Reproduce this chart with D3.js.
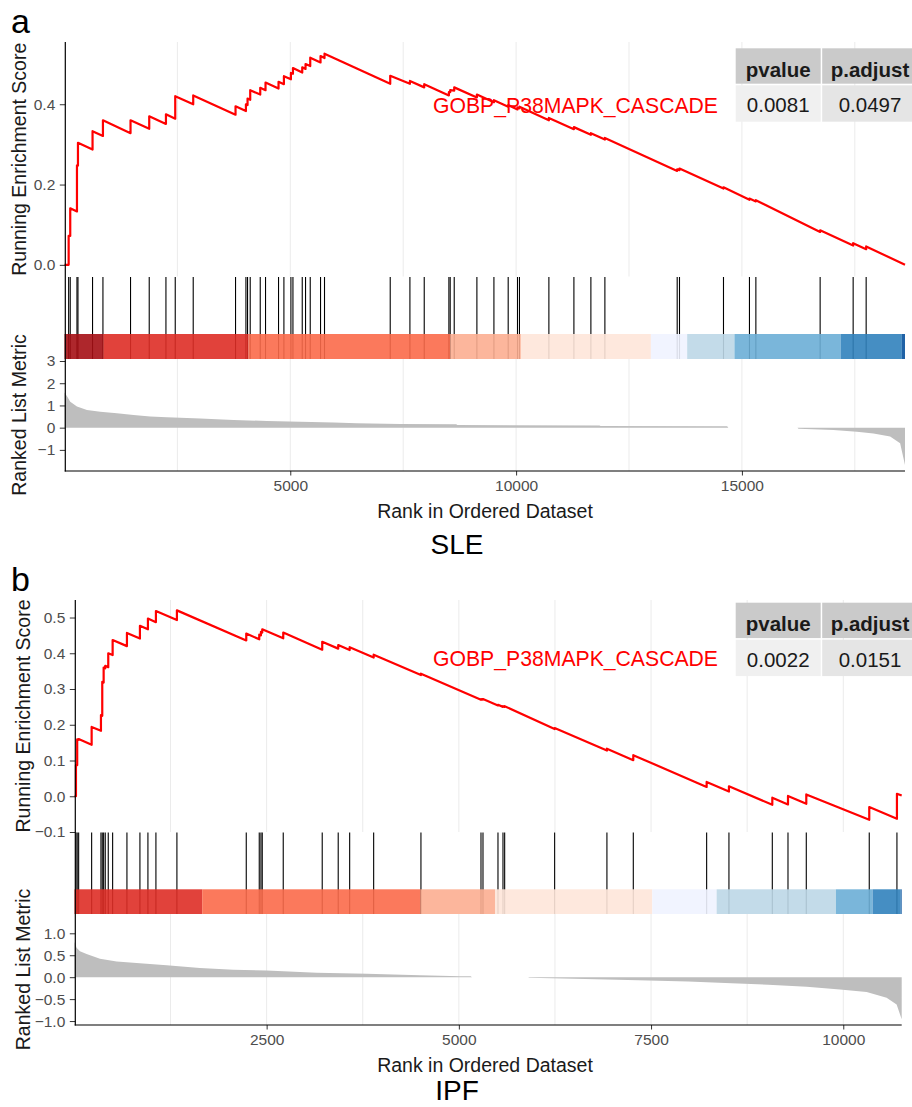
<!DOCTYPE html>
<html>
<head>
<meta charset="utf-8">
<script src="https://cdn.jsdelivr.net/npm/d3@7"></script>
<style>
  body { margin: 0; background: #fff; }
  svg text { font-family: "Liberation Sans", Arial, sans-serif; }
</style>
</head>
<body>
<svg id="fig" width="912" height="1107"></svg>
<script>
/*************** DATA ***************/
const geneSet = 'GOBP_P38MAPK_CASCADE';
const tableHeader = ['pvalue', 'p.adjust'];

// panel a : SLE
const sizeA = 18611;
const hitsA = [93, 128, 277, 299, 622, 852, 1463, 1877, 2247, 2453, 2851, 3788, 4018, 4054, 4113, 4335, 4452, 4740, 4859, 5014,
  5059, 5265, 5338, 5442, 5670, 5758, 7213, 7649, 7966, 8512, 8541, 8630, 9132, 9509, 9825, 10031, 10075, 10726, 11280, 11656,
  11966, 13567, 13618, 14592, 15167, 15309, 16732, 17463, 17751];
const esLowA = [0.000, 0.072, 0.133, 0.247, 0.287, 0.321, 0.328, 0.339, 0.351, 0.364, 0.400, 0.374, 0.383, 0.398, 0.411, 0.424,
  0.435, 0.439, 0.450, 0.462, 0.476, 0.479, 0.488, 0.495, 0.504, 0.515, 0.451, 0.451, 0.442, 0.422, 0.430, 0.434, 0.417, 0.405,
  0.394, 0.387, 0.390, 0.360, 0.338, 0.324, 0.312, 0.234, 0.236, 0.190, 0.162, 0.158, 0.082, 0.048, 0.039];
const esHighA = [0.072, 0.141, 0.248, 0.304, 0.333, 0.360, 0.360, 0.370, 0.375, 0.420, 0.422, 0.395, 0.400, 0.414, 0.435, 0.441,
  0.454, 0.456, 0.470, 0.478, 0.490, 0.492, 0.500, 0.516, 0.520, 0.526, 0.471, 0.458, 0.450, 0.430, 0.435, 0.442, 0.424, 0.410,
  0.398, 0.392, 0.394, 0.366, 0.343, 0.328, 0.316, 0.238, 0.240, 0.193, 0.165, 0.161, 0.086, 0.054, 0.046];
const esEndA = 0.0;
const metricRankA = [1, 60, 128, 277, 498, 793, 1162, 1530, 1899, 2268, 3006, 3744, 4482, 5220, 5958, 6474, 7434, 8674, 8700,
  11846, 11870, 14673, 14700, 16230, 16252, 17027, 17545, 17913, 18282, 18503, 18611];
const metricValA = [1.58, 1.40, 1.17, 0.95, 0.80, 0.72, 0.65, 0.57, 0.50, 0.47, 0.41, 0.35, 0.30, 0.27, 0.23, 0.20, 0.17, 0.15, 0.12,
  0.10, 0.075, 0.06, 0, 0, -0.045, -0.10, -0.18, -0.26, -0.40, -0.70, -1.68];
const barEdgesA = [1, 859, 4076, 8541, 10106, 12984, 13788, 14835, 17191, 18541, 18611];
const barColorsA = ['#A50F15', '#DE2D26', '#FB6A4A', '#FCAE91', '#FEE5D9', '#EFF3FF', '#BDD7E7', '#6BAED6', '#3182BD', '#08519C'];
const esTicksA = [0, 0.2, 0.4];
const metricTicksA = [-1, 0, 1, 2, 3];
const xTicksA = [5000, 10000, 15000];
const statsA = ['0.0081', '0.0497'];

// panel b : IPF
const sizeB = 10760;
const hitsB = [20, 36, 55, 224, 345, 362, 380, 401, 440, 497, 683, 852, 956, 1060, 1333, 2235, 2404, 2426, 2443, 2716,
  3223, 3431, 3580, 3892, 4507, 5288, 5314, 5509, 5574, 5596, 6246, 6926, 7269, 8223, 8513, 9077, 9281, 9519, 10338, 10698];
const esLowB = [0.000, 0.087, 0.158, 0.144, 0.183, 0.225, 0.318, 0.358, 0.361, 0.395, 0.420, 0.441, 0.467, 0.487, 0.493, 0.436,
  0.439, 0.450, 0.458, 0.442, 0.410, 0.413, 0.409, 0.388, 0.339, 0.270, 0.270, 0.254, 0.250, 0.250, 0.188, 0.128, 0.101, 0.026,
  0.013, -0.024, -0.023, -0.021, -0.066, -0.063];
const esHighB = [0.087, 0.159, 0.160, 0.194, 0.227, 0.320, 0.360, 0.365, 0.400, 0.437, 0.457, 0.477, 0.497, 0.518, 0.520, 0.455,
  0.452, 0.460, 0.467, 0.458, 0.432, 0.423, 0.417, 0.396, 0.343, 0.272, 0.272, 0.256, 0.252, 0.252, 0.191, 0.133, 0.115, 0.040,
  0.028, -0.004, 0.001, 0.005, -0.030, 0.007];
const esEndB = 0.002;
const metricRankB = [1, 28, 72, 158, 332, 549, 765, 1199, 1632, 2066, 2500, 3150, 3801, 4494, 5015, 5154, 5170, 5900, 5916,
  6640, 7333, 7984, 8548, 9024, 9524, 9957, 10304, 10564, 10694, 10760];
const metricValB = [0.80, 0.67, 0.59, 0.53, 0.42, 0.36, 0.33, 0.27, 0.21, 0.17, 0.15, 0.10, 0.076, 0.045, 0.023, 0.02, 0, 0,
  -0.015, -0.04, -0.07, -0.10, -0.14, -0.17, -0.22, -0.28, -0.34, -0.47, -0.62, -0.96];
const barEdgesB = [1, 1662, 4503, 5470, 7516, 8353, 9905, 10382, 10747, 10760];
const barColorsB = ['#DE2D26', '#FB6A4A', '#FCAE91', '#FEE5D9', '#EFF3FF', '#BDD7E7', '#6BAED6', '#3182BD', '#08519C'];
const esTicksB = [-0.1, 0, 0.1, 0.2, 0.3, 0.4, 0.5];
const metricTicksB = [-1, -0.5, 0, 0.5, 1];
const xTicksB = [2500, 5000, 7500, 10000];
const statsB = ['0.0022', '0.0151'];

/*************** DRAW ***************/
const svg = d3.select('#fig');

drawGsea({
  tag: 'a', cohort: 'SLE', size: sizeA, hits: hitsA, esLow: esLowA, esHigh: esHighA, esEnd: esEndA,
  metricRank: metricRankA, metricVal: metricValA, barEdges: barEdgesA, barColors: barColorsA,
  esTicks: esTicksA, metricTicks: metricTicksA, xTicks: xTicksA, stats: statsA,
  left: 64.5, right: 905, esTop: 42, esBottom: 276.5, barTop: 334, barBottom: 359, rankBottom: 471,
  esDomain: [-0.029, 0.555], rankDomain: [-1.95, 3.09], tickFmt: d3.format('.1f'), rankFmt: d3.format('d'),
  titleX: 25.5, tableTop: 48.3, legendY: 112.5, tagY: 33, cohortY: 553.5
});

drawGsea({
  tag: 'b', cohort: 'IPF', size: sizeB, hits: hitsB, esLow: esLowB, esHigh: esHighB, esEnd: esEndB,
  metricRank: metricRankB, metricVal: metricValB, barEdges: barEdgesB, barColors: barColorsB,
  esTicks: esTicksB, metricTicks: metricTicksB, xTicks: xTicksB, stats: statsB,
  left: 74.5, right: 901.7, esTop: 600, esBottom: 832, barTop: 889.3, barBottom: 914, rankBottom: 1025,
  esDomain: [-0.1, 0.549], rankDomain: [-1.09, 1.44], tickFmt: d3.format('.1f'), rankFmt: d3.format('.1f'),
  titleX: 30, tableTop: 602.7, legendY: 666, tagY: 591, cohortY: 1100
});

function drawGsea(c) {
  const g = svg.append('g');
  const axisX = c.left + 0.8;

  const x = d3.scaleLinear().domain([1, c.size]).range([c.left, c.right]);
  const yEs = d3.scaleLinear().domain(c.esDomain).range([c.esBottom, c.esTop]);
  const yRank = d3.scaleLinear().domain(c.rankDomain).range([c.rankBottom, c.barBottom]);

  // vertical grid lines (major ticks + minor in between)
  const step = c.xTicks[1] - c.xTicks[0];
  const gridVals = d3.range(step / 2, c.size, step / 2);
  [[c.esTop, c.esBottom], [c.barBottom, c.rankBottom]].forEach(([y0, y1]) => {
    g.append('g').selectAll('line').data(gridVals).enter().append('line')
      .attr('x1', d => x(d)).attr('x2', d => x(d))
      .attr('y1', y0).attr('y2', y1)
      .attr('stroke', '#ebebeb').attr('stroke-width', 1);
  });

  // ranked list metric
  const area = d3.area()
    .x((d, i) => x(c.metricRank[i]))
    .y0(yRank(0))
    .y1(d => yRank(d));
  g.append('path').datum(c.metricVal)
    .attr('d', area)
    .attr('fill', '#bebebe');

  // running enrichment score
  const pts = [[1, 0]];
  c.hits.forEach((h, i) => { pts.push([h, c.esLow[i]]); pts.push([h, c.esHigh[i]]); });
  pts.push([c.size, c.esEnd]);
  g.append('path').datum(pts)
    .attr('d', d3.line().x(d => x(d[0])).y(d => yEs(d[1])))
    .attr('fill', 'none').attr('stroke', '#ff0000').attr('stroke-width', 2.2)
    .attr('stroke-linejoin', 'round');

  // gene set label
  g.append('text')
    .attr('x', 718).attr('y', c.legendY)
    .attr('text-anchor', 'end')
    .style('font-size', '21.2px').attr('fill', '#ff0000')
    .text(geneSet);

  // p value table
  const cols = [[735.7, 820.7], [822.2, 916]];
  const centers = [778.2, 870];
  const rows = [[c.tableTop, c.tableTop + 35.4], [c.tableTop + 37, c.tableTop + 73.4]];
  const fills = [['#cacaca', '#cacaca'], ['#f0f0f0', '#e5e5e5']];
  const cells = [tableHeader, c.stats];
  rows.forEach((r, ri) => {
    cols.forEach((cl, ci) => {
      g.append('rect')
        .attr('x', cl[0]).attr('y', r[0])
        .attr('width', cl[1] - cl[0]).attr('height', r[1] - r[0])
        .attr('fill', fills[ri][ci]);
      g.append('text')
        .attr('x', centers[ci])
        .attr('y', r[0] + (ri === 0 ? 28.4 : 26.8))
        .attr('text-anchor', 'middle')
        .style('font-size', '20.5px')
        .style('font-weight', ri === 0 ? 'bold' : 'normal')
        .attr('fill', '#1a1a1a')
        .text(cells[ri][ci]);
    });
  });

  // hit lines
  g.append('g').selectAll('line').data(c.hits).enter().append('line')
    .attr('x1', d => x(d)).attr('x2', d => x(d))
    .attr('y1', c.esBottom + 0.5).attr('y2', c.barBottom)
    .attr('stroke', '#000').attr('stroke-width', 1.1);

  // colour bar
  g.append('g').selectAll('rect').data(c.barColors).enter().append('rect')
    .attr('x', (d, i) => x(c.barEdges[i]))
    .attr('width', (d, i) => x(c.barEdges[i + 1]) - x(c.barEdges[i]))
    .attr('y', c.barTop).attr('height', c.barBottom - c.barTop)
    .attr('fill', d => d).attr('fill-opacity', 0.9);

  // axes
  const axisStyle = sel => {
    sel.select('.domain').remove();
    sel.selectAll('.tick line').attr('stroke', '#333');
    sel.selectAll('.tick text').attr('fill', '#4d4d4d').style('font-size', '15.5px')
      .style('font-family', '"Liberation Sans", Arial, sans-serif');
  };
  g.append('g').attr('transform', `translate(${axisX},0)`)
    .call(d3.axisLeft(yEs).tickValues(c.esTicks).tickFormat(c.tickFmt).tickSize(5.5).tickPadding(4.5))
    .call(axisStyle);
  g.append('g').attr('transform', `translate(${axisX},0)`)
    .call(d3.axisLeft(yRank).tickValues(c.metricTicks).tickFormat(c.rankFmt).tickSize(5.5).tickPadding(4.5))
    .call(axisStyle);
  g.append('g').attr('transform', `translate(0,${c.rankBottom})`)
    .call(d3.axisBottom(x).tickValues(c.xTicks).tickFormat(d3.format('d')).tickSize(4.5).tickPadding(4))
    .call(axisStyle);

  g.append('line')
    .attr('x1', axisX).attr('x2', axisX).attr('y1', c.esTop).attr('y2', c.rankBottom + 0.6)
    .attr('stroke', '#000').attr('stroke-width', 1.2);
  g.append('line')
    .attr('x1', axisX - 0.6).attr('x2', c.right).attr('y1', c.rankBottom).attr('y2', c.rankBottom)
    .attr('stroke', '#000').attr('stroke-width', 1.2);

  // axis titles
  g.append('text')
    .attr('transform', `translate(${c.titleX},${(c.esTop + c.esBottom) / 2}) rotate(-90)`)
    .attr('text-anchor', 'middle').style('font-size', '19.5px').attr('fill', '#1a1a1a')
    .text('Running Enrichment Score');
  g.append('text')
    .attr('transform', `translate(${c.titleX},${(c.barBottom + c.rankBottom) / 2}) rotate(-90)`)
    .attr('text-anchor', 'middle').style('font-size', '19.5px').attr('fill', '#1a1a1a')
    .text('Ranked List Metric');
  g.append('text')
    .attr('x', 485).attr('y', c.rankBottom + 47.3)
    .attr('text-anchor', 'middle').style('font-size', '19.5px').attr('fill', '#1a1a1a')
    .text('Rank in Ordered Dataset');

  // panel tag and cohort name
  g.append('text')
    .attr('x', 11).attr('y', c.tagY)
    .style('font-size', '34px').attr('fill', '#000')
    .text(c.tag);
  g.append('text')
    .attr('x', 457).attr('y', c.cohortY)
    .attr('text-anchor', 'middle').style('font-size', '28px').attr('fill', '#000')
    .text(c.cohort);
}
</script>
</body>
</html>
